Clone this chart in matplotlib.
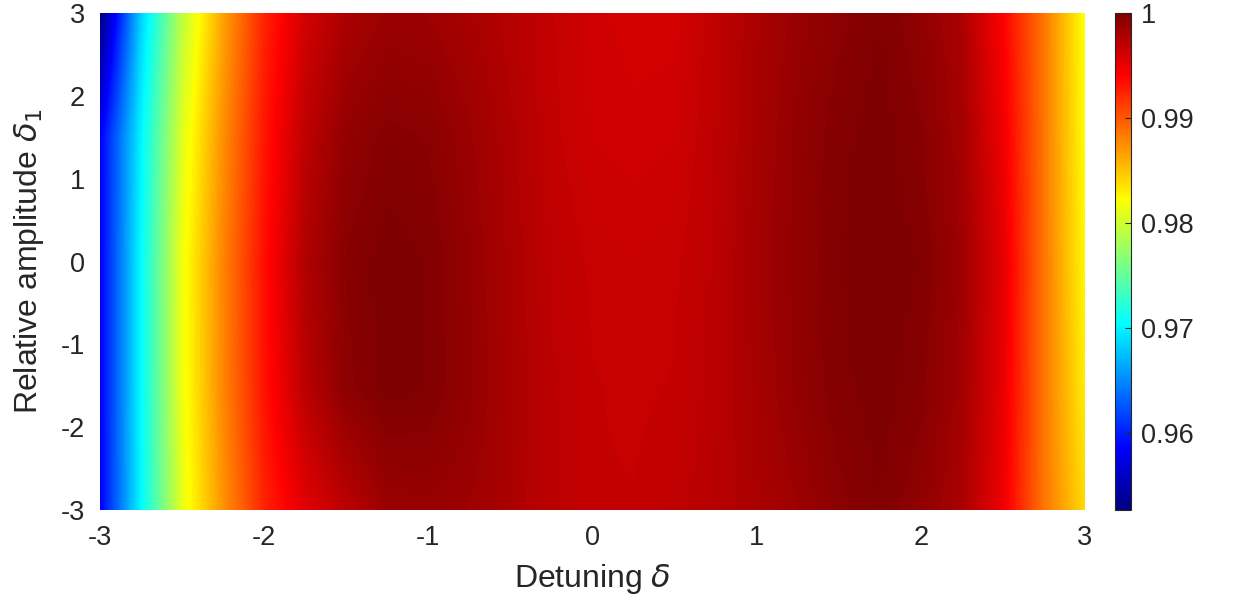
import numpy as np
import matplotlib
matplotlib.use("Agg")
import matplotlib.pyplot as plt
from matplotlib.colors import LinearSegmentedColormap

plt.rcParams['font.family'] = ['Liberation Sans', 'DejaVu Sans']
plt.rcParams['mathtext.fontset'] = 'dejavusans'

# detuning grid (x) and relative amplitude grid (y)
detuning = [-3.0, -2.75, -2.5, -2.25, -2.0, -1.75, -1.5, -1.25, -1.0, -0.75, -0.5, -0.25,
            0.0, 0.25, 0.5, 0.75, 1.0, 1.25, 1.5, 1.75, 2.0, 2.25, 2.5, 2.75, 3.0]
amplitude = [-3.0, -1.5, 0.0, 1.5, 3.0]

# fidelity, one row per amplitude value
fid_m3 = [0.9584, 0.9702, 0.9811, 0.9872, 0.9924, 0.9953, 0.9971, 0.9986, 0.9988, 0.9985, 0.9979, 0.9971,
          0.9967, 0.9967, 0.9969, 0.9973, 0.9979, 0.9985, 0.9993, 0.9998, 0.9991, 0.9979, 0.9948, 0.9886, 0.9839]
fid_m15 = [0.9584, 0.9704, 0.9815, 0.9878, 0.9932, 0.9972, 0.9993, 1.0000, 0.9998, 0.9990, 0.9980, 0.9971,
           0.9967, 0.9966, 0.9967, 0.9972, 0.9981, 0.9990, 0.9997, 1.0000, 0.9996, 0.9983, 0.9951, 0.9886, 0.9830]
fid_0 = [0.9584, 0.9704, 0.9816, 0.9879, 0.9934, 0.9976, 0.9995, 1.0000, 0.9998, 0.9989, 0.9979, 0.9970,
         0.9966, 0.9965, 0.9966, 0.9971, 0.9982, 0.9991, 0.9998, 1.0000, 0.9998, 0.9985, 0.9953, 0.9886, 0.9825]
fid_p15 = [0.9584, 0.9700, 0.9808, 0.9874, 0.9930, 0.9970, 0.9990, 0.9996, 0.9994, 0.9986, 0.9977, 0.9968,
           0.9963, 0.9962, 0.9963, 0.9970, 0.9981, 0.9990, 0.9997, 1.0000, 0.9995, 0.9982, 0.9948, 0.9886, 0.9822]
fid_p3 = [0.9527, 0.9683, 0.9792, 0.9865, 0.9924, 0.9960, 0.9979, 0.9986, 0.9985, 0.9980, 0.9974, 0.9967,
          0.9962, 0.9960, 0.9960, 0.9969, 0.9979, 0.9987, 0.9993, 0.9998, 0.9991, 0.9979, 0.9941, 0.9886, 0.9820]

cbar_ticks = [0.96, 0.97, 0.98, 0.99, 1.0]
cbar_labels = ['0.96', '0.97', '0.98', '0.99', '1']

# matlab style jet
jet_m = LinearSegmentedColormap.from_list(
    'jet_m', [(0, (0, 0, 0.5)), (1 / 8, (0, 0, 1)), (3 / 8, (0, 1, 1)),
              (5 / 8, (1, 1, 0)), (7 / 8, (1, 0, 0)), (1, (0.5, 0, 0))], N=256)

Z = np.array([fid_m3, fid_m15, fid_0, fid_p15, fid_p3])
dx = detuning[1] - detuning[0]
dy = amplitude[1] - amplitude[0]

fig = plt.figure(figsize=(12.34, 6.06), dpi=100)
ax = fig.add_axes([100 / 1234, 96 / 606, 985 / 1234, 497 / 606])
im = ax.imshow(Z, origin='lower', cmap=jet_m, vmin=0.9527, vmax=1.0, aspect='auto',
               interpolation='bilinear', interpolation_stage='data',
               extent=[detuning[0] - dx / 2, detuning[-1] + dx / 2,
                       amplitude[0] - dy / 2, amplitude[-1] + dy / 2])
ax.set_xlim(-3, 3)
ax.set_ylim(-3, 3)
ax.set_xticks([-3, -2, -1, 0, 1, 2, 3])
ax.set_yticks([-3, -2, -1, 0, 1, 2, 3])
ax.set_xticklabels(['-3', '-2', '-1', '0', '1', '2', '3'])
ax.set_yticklabels(['-3', '-2', '-1', '0', '1', '2', '3'])
ax.tick_params(length=0, labelsize=19.5, colors='#262626', pad=11)
for s in ax.spines.values():
    s.set_visible(False)
ax.set_xlabel(r'Detuning $\delta$', fontsize=23, color='#262626', labelpad=8)
ax.set_ylabel(r'Relative amplitude $\delta_1$', fontsize=23, color='#262626', labelpad=10)

cax = fig.add_axes([1115 / 1234, 96 / 606, 16 / 1234, 497 / 606])
cb = fig.colorbar(im, cax=cax, ticks=cbar_ticks)
cb.ax.set_yticklabels(cbar_labels)
cb.ax.tick_params(direction='in', length=4, width=0.8, labelsize=19.5, colors='#262626', pad=7)
cb.outline.set_edgecolor('#262626')
cb.outline.set_linewidth(0.8)

fig.savefig('out.png', dpi=100)
